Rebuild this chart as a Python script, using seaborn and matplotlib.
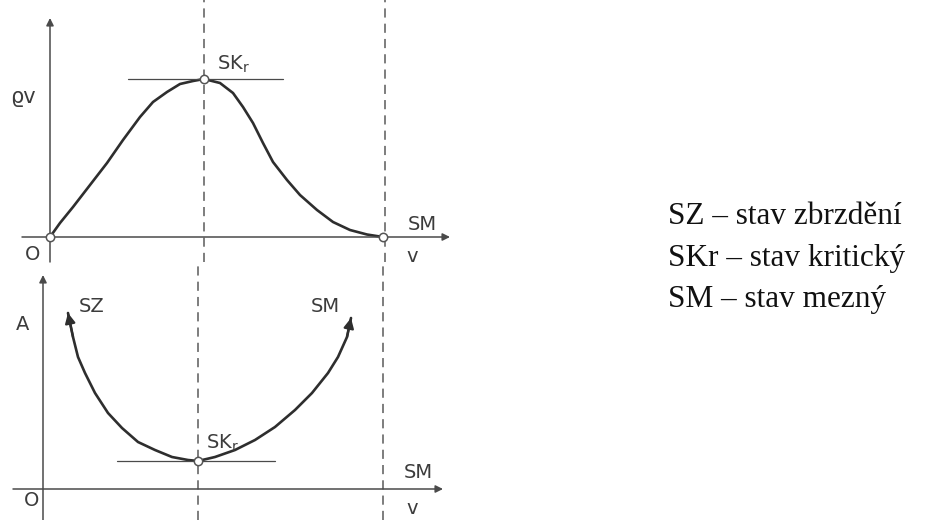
import pandas as pd
import matplotlib
matplotlib.use("Agg")
import matplotlib.pyplot as plt
import seaborn as sns

# --------------------------------------
# DATA
# --------------------------------------
# top panel: flow (rho*v) against speed v
TOP_V = [0, 1.0, 2.3, 4.0, 5.7, 7.3, 9.0, 10.3, 11.7, 13.0, 14.3, 15.4,
         17.0, 18.3, 19.3, 20.3, 21.3, 22.3, 23.7, 25.0, 26.7, 28.3, 30.0, 31.7, 33.3]
TOP_RV = [0, 1.4, 3.0, 5.2, 7.4, 9.7, 12.0, 13.5, 14.5, 15.3, 15.6, 15.8,
          15.4, 14.4, 13.0, 11.4, 9.4, 7.5, 5.7, 4.2, 2.7, 1.5, 0.7, 0.25, 0]
TOP_V_KR = 15.4
TOP_V_SM = 33.5

# bottom panel: A against speed v
BOT_V = [2.5, 3.0, 3.5, 4.2, 5.2, 6.5, 7.9, 9.5, 11.2, 12.9, 14.5, 15.5,
         17.2, 19.2, 21.2, 23.2, 25.2, 26.9, 28.5, 29.5, 30.4, 30.8]
BOT_A = [17.6, 15.2, 13.2, 11.6, 9.6, 7.6, 6.1, 4.7, 3.9, 3.2, 2.9, 2.8,
         3.2, 3.9, 4.9, 6.2, 7.9, 9.6, 11.6, 13.2, 15.2, 17.1]
BOT_V_KR = 15.5
BOT_V_SM = 34.0

LEGEND_LINES = ["SZ – stav zbrzdění", "SKr – stav kritický", "SM – stav mezný"]

# --------------------------------------
# STYLE
# --------------------------------------
CURVE = "#2e2e2e"
AXIS = "#4a4a4a"
LABEL = "#3c3c3c"
DASH = "#5a5a5a"
SKR = r"SK$_{\mathregular{r}}$"


def draw_axis_arrow(ax, start, end):
    ax.annotate("", xy=end, xytext=start,
                arrowprops=dict(arrowstyle="-|>", color=AXIS, lw=1.1,
                                mutation_scale=11, shrinkA=0, shrinkB=0),
                annotation_clip=False)


def open_dot(ax, x, y):
    ax.plot([x], [y], marker="o", markersize=6, markerfacecolor="white",
            markeredgecolor="#555555", markeredgewidth=1.1, zorder=5, clip_on=False)


def label(ax, x, y, s, size=14):
    ax.text(x, y, s, color=LABEL, fontsize=size, family="DejaVu Sans",
            ha="center", va="center", clip_on=False)


def curve(ax, xs, ys):
    df = pd.DataFrame({"x": xs, "y": ys})
    sns.lineplot(data=df, x="x", y="y", ax=ax, color=CURVE, lw=1.9, sort=False,
                 solid_joinstyle="round", solid_capstyle="round")


# --------------------------------------
# TOP PANEL
# --------------------------------------
def top_panel(ax):
    curve(ax, TOP_V, TOP_RV)
    ax.set_xlim(-5, 42)
    ax.set_ylim(-2.5, 23.7)

    for xv in (TOP_V_KR, TOP_V_SM):
        ax.axvline(xv, color=DASH, lw=1.1, ls=(0, (6, 4)))

    draw_axis_arrow(ax, (0, -2.5), (0, 21.9))
    draw_axis_arrow(ax, (-2.8, 0), (40, 0))
    ax.plot([7.8, 23.3], [max(TOP_RV)] * 2, color=AXIS, lw=0.9)

    open_dot(ax, TOP_V[0], TOP_RV[0])
    open_dot(ax, TOP_V_KR, max(TOP_RV))
    open_dot(ax, TOP_V[-1], TOP_RV[-1])

    label(ax, -2.7, 14.0, "ϱv", 15)
    label(ax, 18.4, 17.3, SKR)
    label(ax, 37.2, 1.2, "SM")
    label(ax, -1.7, -1.7, "O")
    label(ax, 36.2, -2.0, "v")
    ax.set_axis_off()


# --------------------------------------
# BOTTOM PANEL
# --------------------------------------
def bottom_panel(ax):
    curve(ax, BOT_V, BOT_A)
    ax.set_xlim(-4.3, 42.7)
    ax.set_ylim(-3.1, 22.7)

    for xv in (BOT_V_KR, BOT_V_SM):
        ax.axvline(xv, color=DASH, lw=1.1, ls=(0, (6, 4)))

    # arrow heads at both ends of the curve
    for i0, i1 in ((1, 0), (-2, -1)):
        ax.annotate("", xy=(BOT_V[i1], BOT_A[i1]), xytext=(BOT_V[i0], BOT_A[i0]),
                    arrowprops=dict(arrowstyle="-|>", color=CURVE, lw=1.6,
                                    mutation_scale=15, shrinkA=0, shrinkB=0))

    draw_axis_arrow(ax, (0, -3.1), (0, 21.4))
    draw_axis_arrow(ax, (-3.0, 0), (40, 0))
    ax.plot([7.4, 23.2], [min(BOT_A)] * 2, color=AXIS, lw=0.9)
    open_dot(ax, BOT_V_KR, min(BOT_A))

    label(ax, -2.0, 16.4, "A")
    label(ax, 4.9, 18.2, "SZ")
    label(ax, 28.2, 18.3, "SM")
    label(ax, 18.0, 4.6, SKR)
    label(ax, 37.5, 1.7, "SM")
    label(ax, -1.1, -1.2, "O")
    label(ax, 36.9, -1.9, "v")
    ax.set_axis_off()


# --------------------------------------
# MAIN
# --------------------------------------
def main():
    sns.set_theme(style="white")
    fig = plt.figure(figsize=(9.26, 5.2), dpi=100)
    fig.patch.set_facecolor("white")

    h = 262 / 520
    w = 470 / 926
    ax_top = fig.add_axes([0, 1 - h, w, h])
    ax_bot = fig.add_axes([0, 0, w, 1 - h])
    ax_top.patch.set_alpha(0)
    ax_bot.patch.set_alpha(0)

    top_panel(ax_top)
    bottom_panel(ax_bot)

    baselines = [224, 266, 307]
    for s, yb in zip(LEGEND_LINES, baselines):
        fig.text(668 / 926, 1 - yb / 520, s, family="Liberation Serif",
                 fontsize=22.5, color="#111111", ha="left", va="baseline")

    fig.savefig("out.png", dpi=100, facecolor="white")


if __name__ == "__main__":
    main()
